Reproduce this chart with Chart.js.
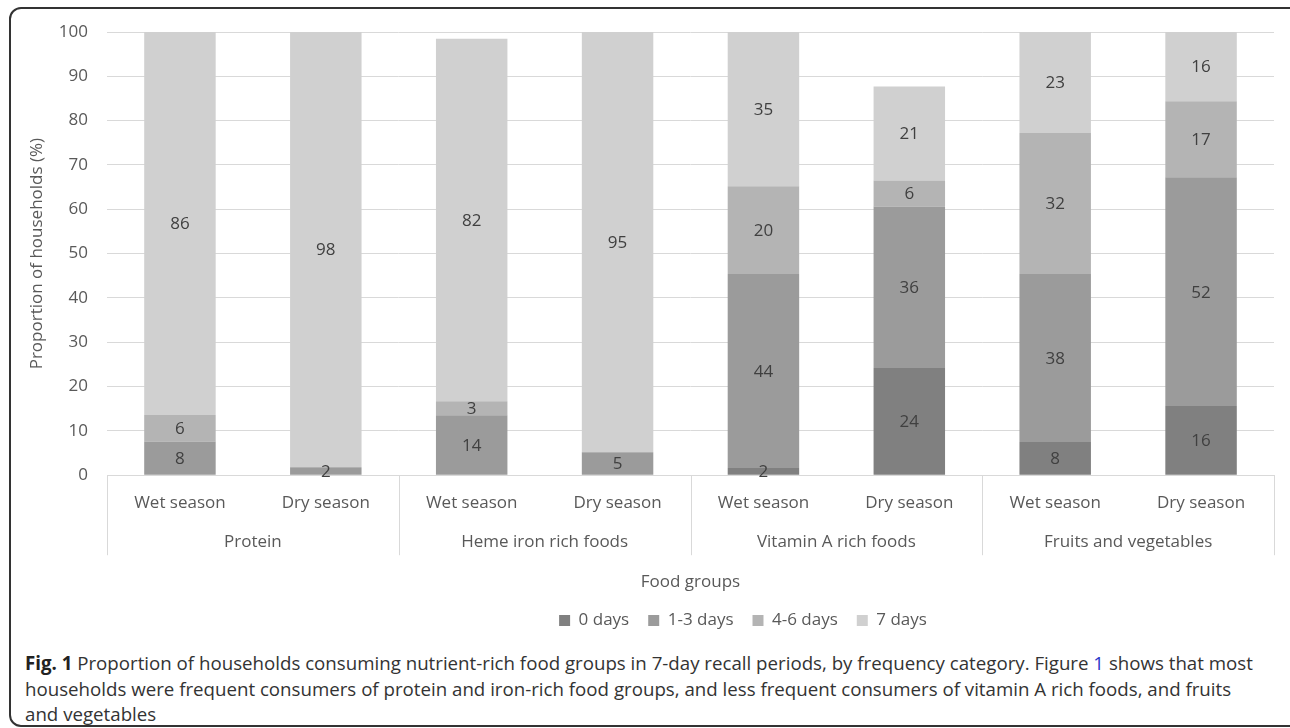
<!DOCTYPE html>
<html>
<head>
<meta charset="utf-8">
<script src="https://cdn.jsdelivr.net/npm/chart.js@4.4.1/dist/chart.umd.min.js"></script>
<style>
  body { margin: 0; background: #fff; font-family: "Open Sans", sans-serif; }
  #frame { position: absolute; left: 9px; top: 7px; width: 1310px; height: 716px; border: 2px solid #333; border-radius: 12px; }
  #wrap { position: absolute; left: 0; top: 0; width: 1290px; height: 650px; }
  #caption { position: absolute; left: 25px; top: 650px; font-size: 18.7px; line-height: 25.5px; color: #333; white-space: nowrap; }
  #caption b { color: #222; }
  #caption span { color: #2a36c9; }
</style>
</head>
<body>
<div id="frame"></div>
<div id="wrap"><canvas id="chart"></canvas></div>
<div id="caption">
  <b>Fig. 1</b> Proportion of households consuming nutrient-rich food groups in 7-day recall periods, by frequency category. Figure <span>1</span> shows that most<br>
  households were frequent consumers of protein and iron-rich food groups, and less frequent consumers of vitamin A rich foods, and fruits<br>
  and vegetables
</div>
<script>
/* Datos */
const groups = ["Protein", "Heme iron rich foods", "Vitamin A rich foods", "Fruits and vegetables"];
const seasons = ["Wet season", "Dry season", "Wet season", "Dry season", "Wet season", "Dry season", "Wet season", "Dry season"];
const seriesNames = ["0 days", "1-3 days", "4-6 days", "7 days"];
const zeroDays = [0, 0, 0, 0, 1.6, 24.2, 7.5, 15.6];
const oneToThreeDays = [7.6, 1.8, 13.5, 5.2, 43.8, 36.4, 37.9, 51.6];
const fourToSixDays = [6.0, 0, 3.2, 0, 19.8, 5.9, 31.8, 17.2];
const sevenDays = [86.4, 98.2, 81.8, 94.8, 34.8, 21.2, 22.8, 15.6];
const yTicks = [0, 10, 20, 30, 40, 50, 60, 70, 80, 90, 100];

const colors = ["#808080", "#9b9b9b", "#b4b4b4", "#d0d0d0"];
const font = "'Open Sans', sans-serif";
const fontSize = 17;
const textColor = "#595959";
const gridColor = "#d9d9d9";

/* etiquetas dentro de cada segmento */
const barLabels = {
  id: "barLabels",
  afterDatasetsDraw(chart) {
    const ctx = chart.ctx;
    ctx.save();
    ctx.font = fontSize + "px " + font;
    ctx.fillStyle = "#404040";
    ctx.textAlign = "center";
    ctx.textBaseline = "middle";
    chart.data.datasets.forEach((ds, i) => {
      chart.getDatasetMeta(i).data.forEach((bar, j) => {
        const v = ds.data[j];
        if (!v) return;
        const { x, y, base } = bar.getProps(["x", "y", "base"], true);
        ctx.fillText(Math.round(v), x, (y + base) / 2 + 1);
      });
    });
    ctx.restore();
  },
};

/* segunda fila del eje x: grupos de alimentos y separadores */
const groupAxis = {
  id: "groupAxis",
  afterDraw(chart) {
    const xs = chart.scales.x;
    const ctx = chart.ctx;
    const slot = xs.getPixelForValue(1) - xs.getPixelForValue(0);
    ctx.save();
    ctx.strokeStyle = gridColor;
    ctx.lineWidth = 1;
    for (let g = 0; g <= groups.length; g++) {
      const px = Math.round(xs.getPixelForValue(g * 2) - slot / 2) + 0.5;
      ctx.beginPath();
      ctx.moveTo(px, xs.top);
      ctx.lineTo(px, xs.top + 80);
      ctx.stroke();
    }
    ctx.font = fontSize + "px " + font;
    ctx.fillStyle = textColor;
    ctx.textAlign = "center";
    ctx.textBaseline = "middle";
    groups.forEach((name, g) => {
      const cx = (xs.getPixelForValue(g * 2) + xs.getPixelForValue(g * 2 + 1)) / 2;
      ctx.fillText(name, cx, xs.top + 67);
    });
    ctx.restore();
  },
};

/* la leyenda va algo a la derecha, como en el original */
const legendShift = {
  id: "legendShift",
  afterLayout(chart) {
    chart.legend.left += 97;
    chart.legend.right += 97;
  },
};

const values = [zeroDays, oneToThreeDays, fourToSixDays, sevenDays];
const datasets = seriesNames.map((name, i) => ({
  label: name,
  data: values[i],
  backgroundColor: colors[i],
  borderWidth: 0,
  categoryPercentage: 1,
  barPercentage: 0.49,
}));

new Chart(document.getElementById("chart"), {
  type: "bar",
  data: { labels: seasons, datasets: datasets },
  plugins: [barLabels, groupAxis, legendShift],
  options: {
    responsive: true,
    maintainAspectRatio: false,
    animation: false,
    layout: { padding: { left: 18, right: 16, top: 32, bottom: 11 } },
    plugins: {
      tooltip: { enabled: false },
      legend: {
        position: "bottom",
        labels: {
          boxWidth: 11,
          boxHeight: 11,
          padding: 19,
          color: textColor,
          font: { family: font, size: fontSize },
        },
      },
    },
    scales: {
      x: {
        stacked: true,
        border: { display: true, color: gridColor },
        grid: { display: false, drawTicks: false },
        ticks: { padding: 18, color: textColor, font: { family: font, size: fontSize }, maxRotation: 0, autoSkip: false },
        title: {
          display: true,
          text: "Food groups",
          color: textColor,
          font: { family: font, size: fontSize },
          padding: { top: 40, bottom: 1 },
        },
      },
      y: {
        stacked: true,
        min: 0,
        max: 100,
        border: { display: false },
        grid: { color: gridColor, drawTicks: false },
        afterBuildTicks: (axis) => { axis.ticks = yTicks.map((v) => ({ value: v })); },
        afterFit: (axis) => { axis.width = 89; },
        ticks: { padding: 19, color: textColor, font: { family: font, size: fontSize } },
        title: {
          display: true,
          text: "Proportion of households (%)",
          color: textColor,
          font: { family: font, size: fontSize },
          padding: { top: 9, bottom: 0 },
        },
      },
    },
  },
});
</script>
</body>
</html>
